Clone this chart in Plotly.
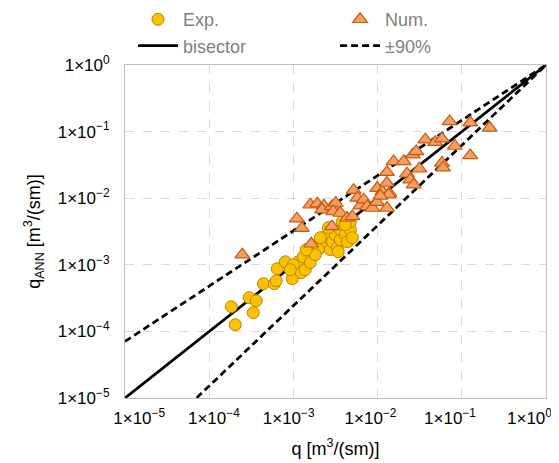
import plotly.graph_objects as go

# ---------------- data ----------------
exp_q = [2.04e-4, 1.83e-4, 3.34e-4, 2.99e-4, 3.62e-4, 4.40e-4, 5.93e-4, 6.44e-4, 8.02e-4,
         9.70e-4, 1.24e-3, 1.14e-3, 9.98e-4, 1.31e-3, 1.63e-3, 1.72e-3, 1.38e-3, 2.26e-3,
         2.39e-3, 2.74e-3, 2.90e-3, 3.32e-3, 3.15e-3, 3.61e-3, 3.61e-3, 4.13e-3, 4.37e-3,
         4.75e-3, 4.75e-3, 1.98e-3, 2.60e-3, 3.81e-3, 2.09e-3, 1.59e-3, 1.82e-3, 4.13e-3,
         5.01e-3, 3.41e-3, 1.42e-3, 9.18e-4, 6.26e-4]
exp_qann = [1.26e-4, 2.35e-4, 1.91e-4, 3.21e-4, 2.89e-4, 5.20e-4, 5.20e-4, 8.73e-4, 1.11e-3,
            6.18e-4, 7.61e-4, 1.11e-3, 1.00e-3, 1.32e-3, 1.42e-3, 1.87e-3, 8.44e-4, 2.00e-3,
            2.64e-3, 1.69e-3, 2.22e-3, 1.81e-3, 2.83e-3, 2.38e-3, 3.37e-3, 2.83e-3, 2.22e-3,
            3.37e-3, 4.44e-3, 1.69e-3, 3.61e-3, 4.44e-3, 2.55e-3, 1.08e-3, 1.42e-3, 4.00e-3,
            2.55e-3, 1.57e-3, 1.69e-3, 8.44e-4, 5.77e-4]

num_q = [2.47e-4, 1.10e-3, 1.26e-3, 1.63e-3, 1.59e-3, 1.92e-3, 2.30e-3, 2.19e-3, 2.87e-3,
         3.19e-3, 2.98e-3, 3.61e-3, 2.87e-3, 4.34e-3, 5.01e-3, 5.19e-3, 5.74e-3, 6.24e-3,
         6.83e-3, 7.55e-3, 8.65e-3, 9.84e-3, 1.29e-2, 9.91e-3, 1.14e-2, 1.29e-2, 1.38e-2,
         1.29e-2, 1.55e-2, 2.04e-2, 2.23e-2, 2.44e-2, 2.68e-2, 2.62e-2, 2.88e-2, 3.13e-2,
         3.69e-2, 4.84e-2, 5.82e-2, 8.26e-2, 5.82e-2, 5.98e-2, 0.126, 7.16e-2, 0.126,
         0.214, 1.35e-2, 1.08e-2]
num_qann = [1.42e-3, 4.92e-3, 3.55e-3, 2.07e-3, 7.98e-3, 8.27e-3, 7.71e-3, 6.72e-3, 7.53e-3,
            8.47e-3, 6.34e-3, 6.00e-3, 3.77e-3, 5.04e-3, 5.33e-3, 1.32e-2, 1.01e-2, 7.71e-3,
            9.49e-3, 7.53e-3, 7.13e-3, 8.71e-3, 7.13e-3, 1.42e-2, 1.26e-2, 1.69e-2, 1.19e-2,
            2.46e-2, 3.57e-2, 3.57e-2, 2.33e-2, 1.90e-2, 1.60e-2, 4.50e-2, 5.04e-2, 2.77e-2,
            7.56e-2, 6.93e-2, 7.82e-2, 6.08e-2, 3.38e-2, 2.87e-2, 4.39e-2, 0.142, 0.136,
            0.114, 1.13e-2, 1.08e-2]

line_q = [1e-5, 1e-1, 1e0]          # range of the reference lines
band_exponents = [0.83, 1 / 0.83]   # upper / lower +-90% bounds (power law through (1,1))

tick_vals = [1e-5, 1e-4, 1e-3, 1e-2, 1e-1, 1e0]
tick_exps = ["−5", "−4", "−3", "−2", "−1", "0"]

# ---------------- styling ----------------
FONT = "Liberation Sans, Arial, sans-serif"
NB = "\u00a0"
x_lead = [6, 2, 0, 0, 0, 0]     # label nudges (nbsp padding) to mimic reference placement
x_trail = [0, 0, 2, 3, 5, 7]

tick_text_y = [f"1×10<sup>{e}</sup>" for e in tick_exps]
tick_text_x = [NB * a + f"1×10<sup>{e}</sup>" + NB * b
               for e, a, b in zip(tick_exps, x_lead, x_trail)]

fig = go.Figure()

# reference lines (drawn first, under markers)
fig.add_trace(go.Scatter(
    x=line_q, y=line_q, mode="lines", name="bisector", legend="legend",
    line=dict(color="black", width=2.75), legendrank=2))
for i, k in enumerate(band_exponents):
    fig.add_trace(go.Scatter(
        x=line_q, y=[v ** k for v in line_q], mode="lines", name="±90%", legend="legend2",
        line=dict(color="black", width=2.75, dash="7px,4px"),
        showlegend=(i == 0), legendrank=2))

fig.add_trace(go.Scatter(
    x=exp_q, y=exp_qann, mode="markers", name="Exp.", legend="legend",
    marker=dict(symbol="circle", size=12, color="#FFC000",
                line=dict(color="#B08A00", width=1)), legendrank=1))
fig.add_trace(go.Scatter(
    x=num_q, y=num_qann, mode="markers", name="Num.", legend="legend2",
    marker=dict(symbol="triangle-up", size=13, color="#F59D62",
                line=dict(color="#C55A11", width=1.2)), legendrank=1))

axis_common = dict(
    type="log", showgrid=True, gridcolor="#D9D9D9", griddash="dash", gridwidth=1,
    showline=True, linecolor="#BFBFBF", linewidth=1, mirror=True,
    zeroline=False, ticks="", tickfont=dict(family=FONT, size=17, color="black"),
    title_font=dict(family=FONT, size=18, color="black"), automargin=False,
)

fig.update_xaxes(**axis_common, range=[-5, 0], tickvals=tick_vals, ticktext=tick_text_x,
                 ticklabelstandoff=5, ticklabeloverflow="allow",
                 title_text="q [m<sup>3</sup>/(sm)]", title_standoff=14)
fig.update_yaxes(**axis_common, range=[-5, 0], tickvals=tick_vals, ticktext=tick_text_y,
                 ticklabelstandoff=11, ticklabeloverflow="allow",
                 title_text="q<sub>ANN</sub> [m<sup>3</sup>/(sm)]", title_standoff=12)

legend_style = dict(orientation="v", xanchor="left", yanchor="top", y=1.192,
                    font=dict(family=FONT, size=18, color="#7F7F7F"),
                    itemwidth=40, bgcolor="rgba(0,0,0,0)", tracegroupgap=0,
                    traceorder="normal")

# page is offset by the browser's default 8px body margin; compensate in size/margins
fig.update_layout(
    width=551, height=455,
    margin=dict(l=117, r=13, t=57, b=65, autoexpand=False),
    paper_bgcolor="white", plot_bgcolor="white",
    font=dict(family=FONT),
    legend=dict(x=0.019, **legend_style),
    legend2=dict(x=0.499, **legend_style),
    showlegend=True,
)

fig.write_html("out.html")
